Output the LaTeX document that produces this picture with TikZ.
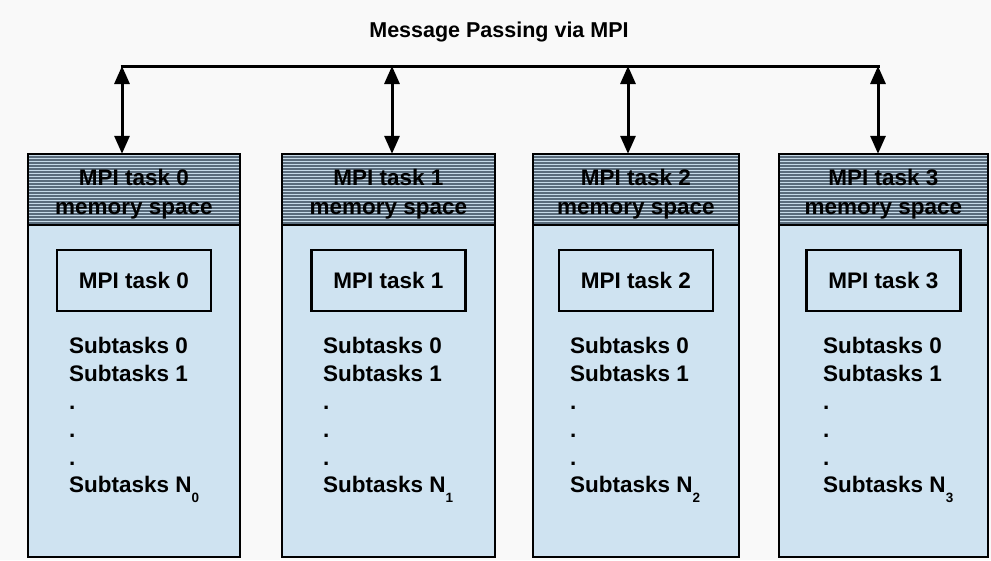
\documentclass[tikz,border=0pt]{standalone}
\usepackage{fontspec}
\setmainfont{Liberation Sans}
\usetikzlibrary{arrows.meta}
\definecolor{pagebg}{HTML}{F9F9F9}
\definecolor{cellblue}{HTML}{CFE3F1}
\definecolor{stripeblue}{HTML}{C6DAE8}
\definecolor{stripegray}{HTML}{5A6C7C}
\tikzset{
  every node/.style={font=\fontsize{22.5}{27}\selectfont\bfseries, inner sep=0pt},
  colbox/.style={draw=black, line width=2.6pt, fill=cellblue},
  taskbox/.style={draw=black, line width=2.8pt, fill=cellblue, minimum width=154pt, minimum height=61pt},
  hdrtext/.style={align=center, font=\fontsize{22.5}{29}\selectfont\bfseries},
  link/.style={line width=3pt, {Triangle[length=18pt,width=15pt]}-{Triangle[length=18pt,width=15pt]}},
  bus/.style={line width=3pt},
}
\begin{document}
\begin{tikzpicture}[x=1pt, y=-1pt]
  % page background
  \fill[pagebg] (0,0) rectangle (991,560);
  \useasboundingbox (0,0) rectangle (991,560);

  % title and bus line
  \node (title) at (499,32) {\fontsize{21.5}{25}\selectfont Message Passing via MPI};
  \coordinate (bL) at (122,66);
  \coordinate (bR) at (878,66);
  \draw[bus] ([xshift=-1.5pt]bL) -- ([xshift=1.5pt]bR);

  \foreach \i/\l/\r/\a/\t in {0/28/240/122/69, 1/282/495/392/323, 2/533/739/628/570, 3/779/988/878/823} {
    % column body
    \path[colbox] (\l,154) rectangle (\r,557);
    \node (col\i) at ({(\l+\r)/2},355.5) [minimum width={\r-\l}, minimum height=403pt] {};
    % striped header
    \fill[stripeblue] (\l,154) rectangle (\r,225);
    \foreach \y in {157,160,...,224}
      \draw[stripegray, line width=1.3pt] (\l,\y) -- (\r,\y);
    \draw[black, line width=2pt] (\l,225) -- (\r,225);
    \draw[black, line width=2.6pt] (\l,557) -- (\l,154) -- (\r,154) -- (\r,557) -- cycle;
    \node[hdrtext] (hdr\i) at ({(\l+\r)/2},194.5) {MPI task \i\\memory space};
    % task box
    \node[taskbox] (task\i) at ({(\l+\r)/2},280.5) {MPI task \i};
    % subtask list
    \node[anchor=base west] (s\i a) at (\t,353) {Subtasks 0};
    \node[anchor=base west] (s\i b) at (\t,381) {Subtasks 1};
    \node[anchor=base west] (s\i c) at (\t,409) {.};
    \node[anchor=base west] (s\i d) at (\t,437) {.};
    \node[anchor=base west] (s\i e) at (\t,465) {.};
    \node[anchor=base west] (s\i f) at (\t,492) {Subtasks N\raisebox{-10.5pt}{\fontsize{13.5}{14}\selectfont\i}};
    % link to the bus
    \coordinate (b\i) at (\a,66);
    \draw[link] (b\i) -- (b\i |- col\i.north);
  }
\end{tikzpicture}
\end{document}
